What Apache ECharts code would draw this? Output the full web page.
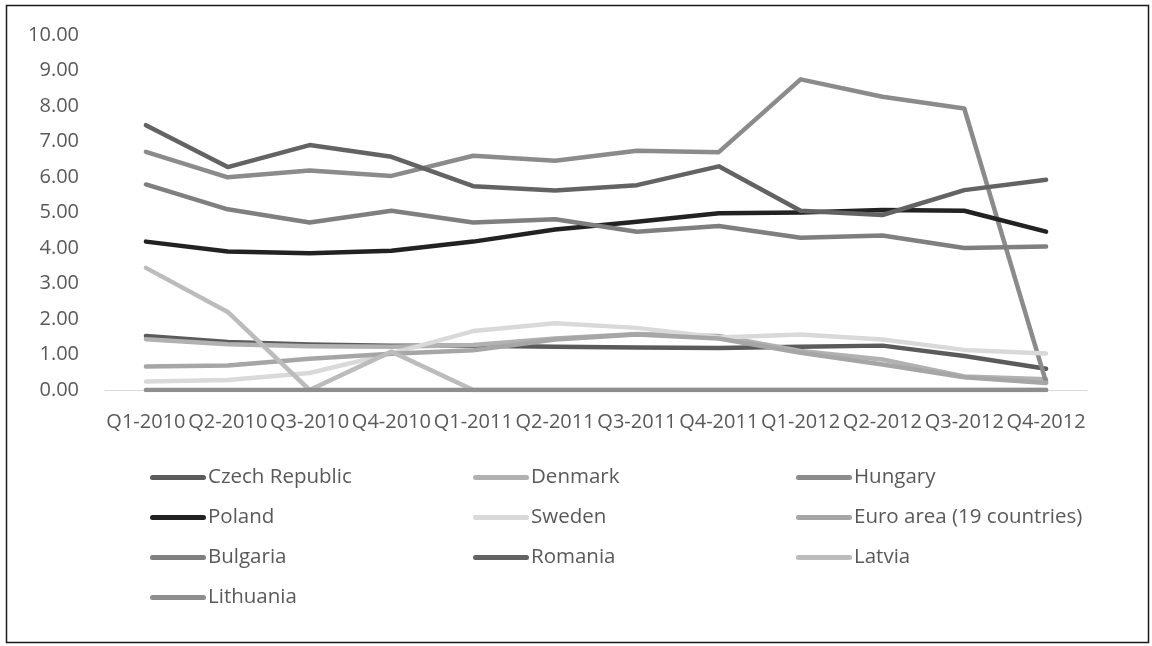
<!DOCTYPE html>
<html>
<head>
<meta charset="utf-8">
<script src="https://cdn.jsdelivr.net/npm/echarts@6/dist/echarts.min.js"></script>
<style>
html,body{margin:0;padding:0;background:#fff;}
#chart{width:1152px;height:646px;}
</style>
</head>
<body>
<div id="chart"></div>
<script>
const categories = ['Q1-2010','Q2-2010','Q3-2010','Q4-2010','Q1-2011','Q2-2011','Q3-2011','Q4-2011','Q1-2012','Q2-2012','Q3-2012','Q4-2012'];
const czechRepublic = [1.52,1.35,1.28,1.25,1.25,1.22,1.20,1.18,1.22,1.25,0.96,0.60];
const denmark       = [1.43,1.29,1.23,1.22,1.27,1.45,1.58,1.52,1.10,0.86,0.38,0.30];
const hungary       = [6.71,5.99,6.18,6.03,6.60,6.46,6.74,6.70,8.75,8.26,7.93,0.22];
const poland        = [4.18,3.90,3.85,3.92,4.18,4.52,4.74,4.98,5.00,5.07,5.05,4.46];
const sweden        = [0.24,0.28,0.48,1.03,1.66,1.88,1.75,1.48,1.56,1.42,1.13,1.03];
const euroArea      = [0.66,0.69,0.88,1.02,1.12,1.42,1.56,1.45,1.05,0.72,0.36,0.20];
const bulgaria      = [5.79,5.09,4.72,5.05,4.72,4.81,4.46,4.62,4.29,4.35,4.00,4.04];
const romania       = [7.46,6.28,6.90,6.57,5.74,5.62,5.77,6.30,5.05,4.93,5.63,5.92];
const latvia        = [3.44,2.20,0.00,1.08,0.00,0.00,0.00,0.00,0.00,0.00,0.00,0.00];
const lithuania     = [0,0,0,0,0,0,0,0,0,0,0,0];
const yTicks = [0,1,2,3,4,5,6,7,8,9,10];

const seriesDefs = [
  ['Czech Republic', czechRepublic, '#5b5b5b'],
  ['Denmark', denmark, '#b1b1b1'],
  ['Hungary', hungary, '#8b8b8b'],
  ['Poland', poland, '#222222'],
  ['Sweden', sweden, '#d9d9d9'],
  ['Euro area (19 countries)', euroArea, '#a6a6a6'],
  ['Bulgaria', bulgaria, '#7f7f7f'],
  ['Romania', romania, '#636363'],
  ['Latvia', latvia, '#bcbcbc'],
  ['Lithuania', lithuania, '#8e8e8e']
];

const FONT = '"Open Sans", "Liberation Sans", sans-serif';
const chart = echarts.init(document.getElementById('chart'));

function legendCol(names, left) {
  return {
    orient: 'vertical',
    left: left, top: 462,
    itemWidth: 56, itemHeight: 20, itemGap: 19,
    icon: 'path://M2.5,0 L53.5,0 A2.5,2.5 0 0 1 53.5,5 L2.5,5 A2.5,2.5 0 0 1 2.5,0 Z',
    selectedMode: false,
    textStyle: {fontFamily: FONT, fontSize: 20.5, color: '#595959', lineHeight: 20, padding: [0,0,0,-3]},
    data: names
  };
}

chart.setOption({
  animation: false,
  backgroundColor: '#ffffff',
  textStyle: {fontFamily: FONT},
  graphic: [{
    type: 'rect', left: 4, top: 3,
    shape: {width: 1142, height: 637},
    style: {fill: 'none', stroke: '#1a1a1a', lineWidth: 1.5}
  }],
  grid: {left: 105, right: 65, top: 35, bottom: 256, containLabel: false},
  xAxis: {
    type: 'category',
    data: categories,
    boundaryGap: true,
    axisLine: {lineStyle: {color: '#d9d9d9', width: 1}},
    axisTick: {show: false},
    axisLabel: {interval: 0, margin: 22, color: '#595959', fontSize: 20, fontFamily: FONT}
  },
  yAxis: {
    type: 'value',
    min: yTicks[0], max: yTicks[yTicks.length - 1], interval: 1,
    splitLine: {show: false},
    axisLine: {show: false},
    axisTick: {show: false},
    axisLabel: {margin: 26, color: '#595959', fontSize: 20, fontFamily: FONT,
      formatter: v => v.toFixed(2)}
  },
  legend: [
    legendCol(['Czech Republic','Poland','Bulgaria','Lithuania'], 145),
    legendCol(['Denmark','Sweden','Romania'], 468),
    legendCol(['Hungary','Euro area (19 countries)','Latvia'], 791)
  ],
  series: seriesDefs.map(([name, data, color]) => ({
    name: name,
    type: 'line',
    data: data,
    symbol: 'none',
    color: color,
    lineStyle: {color: color, width: 4.5, cap: 'round', join: 'round'},
    itemStyle: {color: color}
  }))
});
</script>
</body>
</html>
